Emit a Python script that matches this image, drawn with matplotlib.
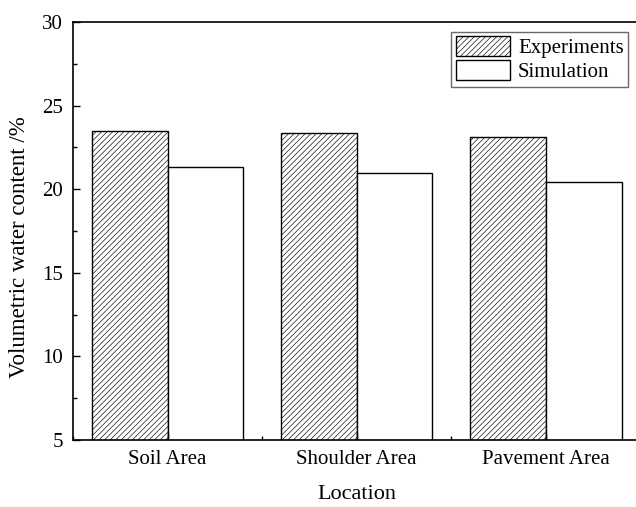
import matplotlib
matplotlib.use("Agg")
import matplotlib.pyplot as plt
import numpy as np
from matplotlib.ticker import MultipleLocator

plt.rcParams["font.family"] = ["Liberation Serif", "DejaVu Serif"]
plt.rcParams["hatch.linewidth"] = 0.45

locations = ["Soil Area", "Shoulder Area", "Pavement Area"]
experiments = [23.50, 23.38, 23.12]
simulation = [21.31, 20.99, 20.43]

fig = plt.figure(figsize=(6.36, 5.07), dpi=100)
# right spine sits just past the image edge, as in the reference crop
ax = fig.add_axes([73 / 636, 67 / 507, 567.5 / 636, 418 / 507])

x = np.arange(len(locations))
w = 0.4
ax.bar(x - w / 2, experiments, width=w, bottom=0, facecolor="white",
       edgecolor="black", hatch="//////", linewidth=1.0, label="Experiments")
ax.bar(x + w / 2, simulation, width=w, bottom=0, facecolor="white",
       edgecolor="black", linewidth=1.0, label="Simulation")

ax.set_xlim(-0.5, 2.5)
ax.set_ylim(5, 30)
ax.set_xticks(x)
ax.set_xticklabels(locations)
ax.xaxis.set_minor_locator(MultipleLocator(1, offset=0.5))
ax.yaxis.set_major_locator(MultipleLocator(5))
ax.yaxis.set_minor_locator(MultipleLocator(2.5))
ax.tick_params(which="both", direction="in", labelsize=15, width=1.0,
               pad=7, top=False, right=False)
ax.tick_params(which="major", length=5)
ax.tick_params(which="minor", length=3)
for s in ax.spines.values():
    s.set_linewidth(1.2)

ax.set_xlabel("Location", fontsize=16, labelpad=12)
ax.set_ylabel("Volumetric water content /%", fontsize=16.5)
ax.yaxis.set_label_coords(-0.076, 0.462)

leg = ax.legend(loc="upper right", bbox_to_anchor=(628 / 636, 1 - 32 / 507),
                bbox_transform=fig.transFigure, borderaxespad=0,
                fancybox=False, edgecolor="#444444", fontsize=15,
                handlelength=2.6, handleheight=1.1, handletextpad=0.4,
                labelspacing=0.1, borderpad=0.2)
leg.get_frame().set_linewidth(1.0)

fig.savefig("out.png", dpi=100)
